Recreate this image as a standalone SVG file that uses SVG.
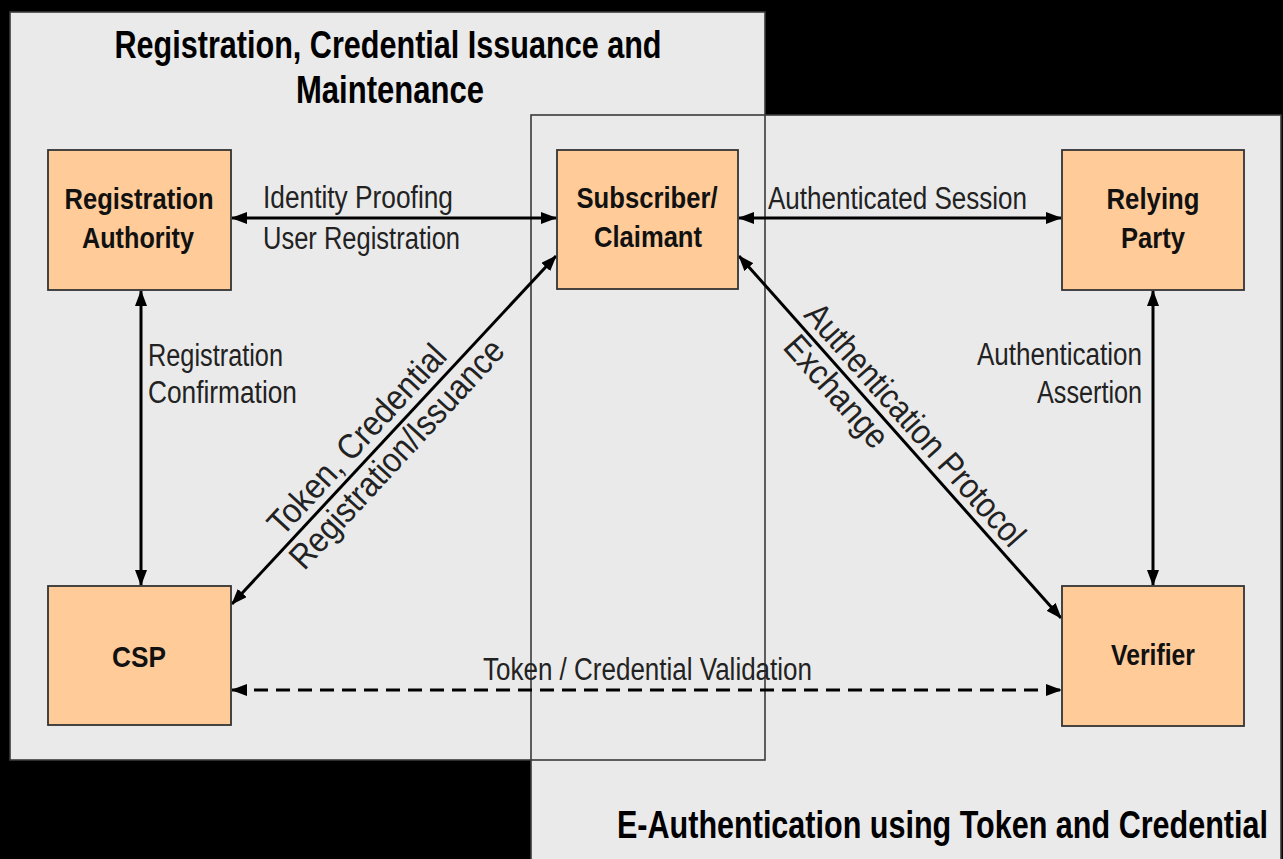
<svg xmlns="http://www.w3.org/2000/svg" width="1283" height="859" viewBox="0 0 1283 859">
  <defs>
    <marker id="arrow" markerUnits="userSpaceOnUse" markerWidth="16" markerHeight="12" refX="15" refY="6" orient="auto-start-reverse">
      <path d="M0,0 L16,6 L0,12 Z" fill="#000"/>
    </marker>
    <style>
      .panel { fill: #eaeaea; }
      .panel-edge { fill: none; stroke: #3a3a3a; stroke-width: 1.6; }
      .node rect { fill: #ffcc99; stroke: #333; stroke-width: 1.8; }
      .node text { font-family: "Liberation Sans Narrow", "Liberation Sans", Arial, sans-serif; font-weight: bold; font-size: 30px; fill: #111; text-anchor: middle; }
      .title { font-family: "Liberation Sans Narrow", "Liberation Sans", Arial, sans-serif; font-weight: bold; font-size: 38px; fill: #000; }
      .link { stroke: #000; stroke-width: 3; fill: none; marker-start: url(#arrow); marker-end: url(#arrow); }
      .dashed { stroke-dasharray: 14 8; }
      .label { font-family: "Liberation Sans Narrow", "Liberation Sans", Arial, sans-serif; font-size: 31px; fill: #222; }
      .diag { font-family: "Liberation Sans Narrow", "Liberation Sans", Arial, sans-serif; font-size: 35px; fill: #222; }
    </style>
  </defs>

  <!-- backdrop -->
  <rect x="0" y="0" width="1283" height="859" fill="#000"/>

  <!-- the two overlapping regions -->
  <g id="regions">
    <rect class="panel" x="10" y="12" width="755" height="748"/>
    <rect class="panel" x="531" y="115" width="750" height="745"/>
    <rect class="panel-edge" x="10" y="12" width="755" height="748"/>
    <rect class="panel-edge" x="531" y="115" width="750" height="745"/>
    <text class="title" x="388" y="58" text-anchor="middle" textLength="547" lengthAdjust="spacingAndGlyphs">Registration, Credential Issuance and</text>
    <text class="title" x="390" y="103" text-anchor="middle" textLength="188" lengthAdjust="spacingAndGlyphs">Maintenance</text>
    <text class="title" x="617" y="838" textLength="651" lengthAdjust="spacingAndGlyphs">E-Authentication using Token and Credential</text>
  </g>

  <!-- connectors -->
  <g id="connectors">
    <line class="link" x1="232" y1="218" x2="556" y2="218"/>
    <line class="link" x1="739" y1="218" x2="1061" y2="218"/>
    <line class="link" x1="141" y1="291" x2="141" y2="585"/>
    <line class="link" x1="1153" y1="291" x2="1153" y2="585"/>
    <line class="link" x1="556" y1="256" x2="232" y2="604"/>
    <line class="link" x1="739" y1="256" x2="1061" y2="618"/>
    <line class="link dashed" x1="232" y1="690" x2="1061" y2="690"/>

    <text class="label" x="263" y="208" textLength="190" lengthAdjust="spacingAndGlyphs">Identity Proofing</text>
    <text class="label" x="263" y="249" textLength="197" lengthAdjust="spacingAndGlyphs">User Registration</text>
    <text class="label" x="768" y="209" textLength="259" lengthAdjust="spacingAndGlyphs">Authenticated Session</text>
    <text class="label" x="148" y="366" textLength="135" lengthAdjust="spacingAndGlyphs">Registration</text>
    <text class="label" x="148" y="403" textLength="149" lengthAdjust="spacingAndGlyphs">Confirmation</text>
    <text class="label" x="1142" y="365" text-anchor="end" textLength="165" lengthAdjust="spacingAndGlyphs">Authentication</text>
    <text class="label" x="1142" y="403" text-anchor="end" textLength="105" lengthAdjust="spacingAndGlyphs">Assertion</text>
    <text class="label" x="483" y="680" textLength="329" lengthAdjust="spacingAndGlyphs">Token / Credential Validation</text>

    <g transform="translate(232,604) rotate(-47.3)">
      <text class="diag" x="83" y="-8" textLength="245" lengthAdjust="spacingAndGlyphs">Token, Credential</text>
      <text class="diag" x="73" y="31" textLength="298" lengthAdjust="spacingAndGlyphs">Registration/Issuance</text>
    </g>
    <g transform="translate(739,256) rotate(48.4)">
      <text class="diag" x="87" y="-8" textLength="312" lengthAdjust="spacingAndGlyphs">Authentication Protocol</text>
      <text class="diag" x="97" y="29" textLength="138" lengthAdjust="spacingAndGlyphs">Exchange</text>
    </g>
  </g>

  <!-- nodes -->
  <g id="registration-authority" class="node">
    <rect x="48" y="150" width="183" height="140"/>
    <text x="139" y="209" textLength="149" lengthAdjust="spacingAndGlyphs">Registration</text>
    <text x="138" y="248" textLength="112" lengthAdjust="spacingAndGlyphs">Authority</text>
  </g>
  <g id="subscriber-claimant" class="node">
    <rect x="557" y="150" width="181" height="139"/>
    <text x="647" y="208" textLength="141" lengthAdjust="spacingAndGlyphs">Subscriber/</text>
    <text x="648" y="247" textLength="108" lengthAdjust="spacingAndGlyphs">Claimant</text>
  </g>
  <g id="relying-party" class="node">
    <rect x="1062" y="150" width="182" height="140"/>
    <text x="1153" y="209" textLength="93" lengthAdjust="spacingAndGlyphs">Relying</text>
    <text x="1153" y="248" textLength="64" lengthAdjust="spacingAndGlyphs">Party</text>
  </g>
  <g id="csp" class="node">
    <rect x="48" y="586" width="183" height="139"/>
    <text x="139" y="667" textLength="54" lengthAdjust="spacingAndGlyphs">CSP</text>
  </g>
  <g id="verifier" class="node">
    <rect x="1062" y="586" width="182" height="140"/>
    <text x="1153" y="665" textLength="84" lengthAdjust="spacingAndGlyphs">Verifier</text>
  </g>
</svg>
